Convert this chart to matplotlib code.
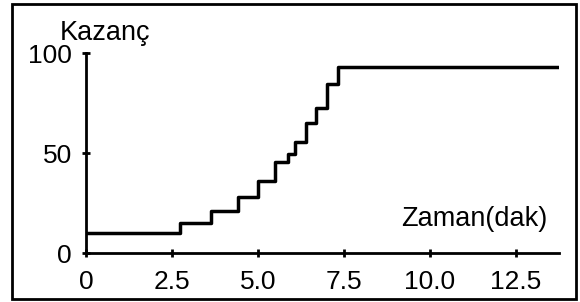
import matplotlib.pyplot as plt
from matplotlib.patches import Rectangle

plt.rcParams['font.family'] = ['Liberation Sans', 'DejaVu Sans']

# zaman (dak) -> kazanc, step levels
zaman = [0, 2.73, 3.65, 4.41, 5.01, 5.49, 5.88, 6.09, 6.40, 6.68, 7.02, 7.34, 13.75]
kazanc = [10, 15, 21, 28, 36, 45.5, 49.5, 55.5, 65, 72.5, 84.5, 93, 93]

x_ticks = [0, 2.5, 5.0, 7.5, 10.0, 12.5]
x_labels = ['0', '2.5', '5.0', '7.5', '10.0', '12.5']
y_ticks = [0, 50, 100]
y_labels = ['0', '50', '100']

fig = plt.figure(figsize=(5.8, 3.02), dpi=100)
ax = fig.add_axes([0.148, 0.162, 0.816, 0.662])

ax.plot(zaman, kazanc, drawstyle='steps-post', color='black', lw=2.5)

ax.set_xlim(0, 13.75)
ax.set_ylim(0, 100)
ax.set_xticks(x_ticks)
ax.set_xticklabels(x_labels)
ax.set_yticks(y_ticks)
ax.set_yticklabels(y_labels)
ax.tick_params(direction='inout', length=6, width=2, labelsize=19)
ax.tick_params(axis='x', pad=9)
ax.tick_params(axis='y', pad=7)

for s in ['top', 'right']:
    ax.spines[s].set_visible(False)
for s in ['left', 'bottom']:
    ax.spines[s].set_linewidth(2)

ax.text(-0.055, 1.065, 'Kazanç', transform=ax.transAxes, fontsize=19.5,
        ha='left', va='baseline')
ax.text(0.975, 0.135, 'Zaman(dak)', transform=ax.transAxes, fontsize=19.5,
        ha='right', va='baseline')

# outer frame
fig.patches.append(Rectangle((0.021, 0.01), 0.972, 0.977, transform=fig.transFigure,
                             fill=False, edgecolor='black', lw=2))

fig.savefig('out.png', dpi=100)
